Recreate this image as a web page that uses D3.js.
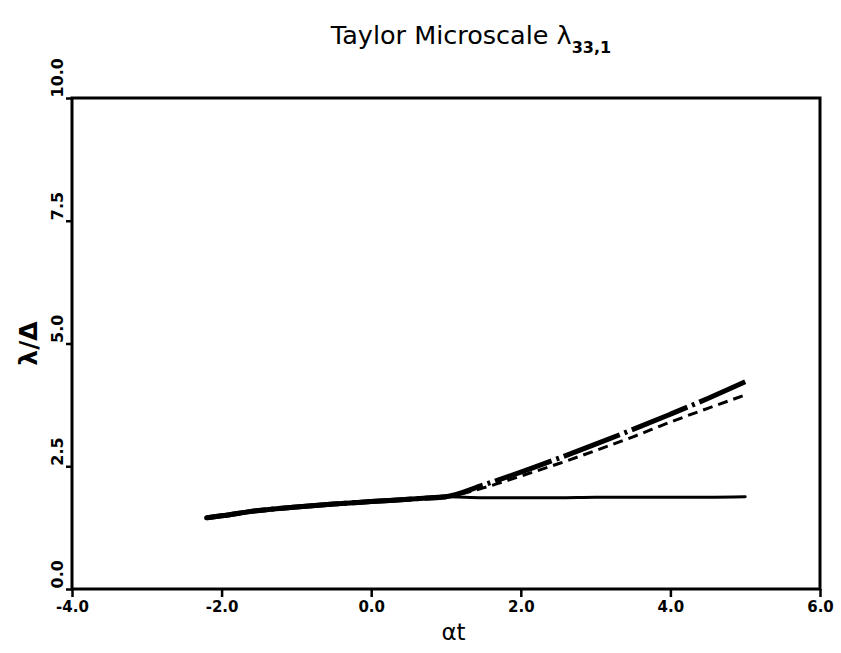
<!DOCTYPE html>
<html>
<head>
<meta charset="utf-8">
<script src="https://cdn.jsdelivr.net/npm/d3@7"></script>
<style>
  html, body { margin: 0; padding: 0; background: #fff; }
  svg { display: block; }
  text { font-family: "DejaVu Sans", "Noto Sans", sans-serif; fill: #000; }
</style>
</head>
<body>
<svg id="chart" width="841" height="653"></svg>
<script>
// ---- data ----
const titleText = "Taylor Microscale λ";
const titleSub = "33,1";
const xLabel = "αt";
const yLabel = "λ/Δ";
const xTicks = [-4, -2, 0, 2, 4, 6];
const yTicks = [0, 2.5, 5, 7.5, 10];

// αt values
const atCommon = [-2.2, -2.0, -1.5, -1.0, -0.5, 0.0, 0.5, 1.0];
const valCommon = [1.45, 1.49, 1.60, 1.67, 1.73, 1.78, 1.83, 1.88];

const atBranch = [1.5, 2.0, 2.5, 3.0, 3.5, 4.0, 4.5, 5.0];
const valFlat   = [1.86, 1.86, 1.86, 1.87, 1.87, 1.87, 1.87, 1.88];
const valDashed = [2.06, 2.30, 2.55, 2.82, 3.10, 3.40, 3.68, 3.95];
const valDashDot = [2.12, 2.38, 2.66, 2.95, 3.25, 3.56, 3.88, 4.22];

// ---- layout ----
const svg = d3.select("#chart");
const mLeft = 72, mRight = 820, mTop = 98, mBottom = 589;

const x = d3.scaleLinear().domain([-4, 6]).range([mLeft, mRight]);
const y = d3.scaleLinear().domain([0, 10]).range([mBottom, mTop]);

// title
const title = svg.append("text")
  .attr("x", 471).attr("y", 44)
  .attr("text-anchor", "middle")
  .style("font-size", "25.5px");
title.append("tspan").text(titleText);
title.append("tspan").attr("dy", 9).style("font-size", "16px").style("font-weight", "bold").text(titleSub);

// frame
svg.append("rect")
  .attr("x", mLeft).attr("y", mTop)
  .attr("width", mRight - mLeft).attr("height", mBottom - mTop)
  .attr("fill", "none").attr("stroke", "#000").attr("stroke-width", 3);

// x axis
const xAxis = d3.axisBottom(x).tickValues(xTicks).tickSize(8).tickFormat(d3.format(".1f"));
const gx = svg.append("g").attr("transform", `translate(0,${mBottom})`).call(xAxis);
gx.select(".domain").remove();
gx.selectAll(".tick line").attr("stroke", "#000").attr("stroke-width", 2.5);
gx.selectAll(".tick text")
  .attr("y", 12)
  .style("font-size", "15px").style("font-weight", "bold")
  .text(d => d < 0 ? "-" + Math.abs(d).toFixed(1) : d.toFixed(1));

// y axis
const yAxis = d3.axisLeft(y).tickValues(yTicks).tickSize(6).tickFormat(d3.format(".1f"));
const gy = svg.append("g").attr("transform", `translate(${mLeft},0)`).call(yAxis);
gy.select(".domain").remove();
gy.selectAll(".tick line").attr("stroke", "#000").attr("stroke-width", 2.5);
gy.selectAll(".tick text")
  .attr("x", 0).attr("dy", 0)
  .attr("text-anchor", "start")
  .attr("transform", "translate(-9,-1) rotate(-90)")
  .style("font-size", "16px").style("font-weight", "bold");

// axis labels
svg.append("text")
  .attr("x", x(1.1)).attr("y", 640)
  .attr("text-anchor", "middle")
  .style("font-size", "23px")
  .text(xLabel);

svg.append("text")
  .attr("transform", `translate(37,${y(5.0)}) rotate(-90)`)
  .attr("text-anchor", "middle")
  .style("font-size", "25px").style("font-weight", "bold")
  .text(yLabel);

// series
function series(vals) {
  const pts = atCommon.map((a, i) => [a, valCommon[i]]);
  atBranch.forEach((a, i) => pts.push([a, vals[i]]));
  return pts;
}
const line = d3.line().x(d => x(d[0])).y(d => y(d[1])).curve(d3.curveMonotoneX);

const plot = svg.append("g");
plot.append("path").datum(series(valFlat))
  .attr("d", line).attr("fill", "none").attr("stroke", "#000")
  .attr("stroke-width", 3).attr("stroke-linecap", "round");
plot.append("path").datum(series(valDashed))
  .attr("d", line).attr("fill", "none").attr("stroke", "#000")
  .attr("stroke-width", 3).attr("stroke-dasharray", "10,6");
plot.append("path").datum(series(valDashDot))
  .attr("d", line).attr("fill", "none").attr("stroke", "#000")
  .attr("stroke-width", 5).attr("stroke-dasharray", "60,5,3,5")
  .attr("stroke-linecap", "butt");
// common thick segment
plot.append("path").datum(atCommon.map((a, i) => [a, valCommon[i]]))
  .attr("d", line).attr("fill", "none").attr("stroke", "#000")
  .attr("stroke-width", 5).attr("stroke-linecap", "round");
</script>
</body>
</html>
